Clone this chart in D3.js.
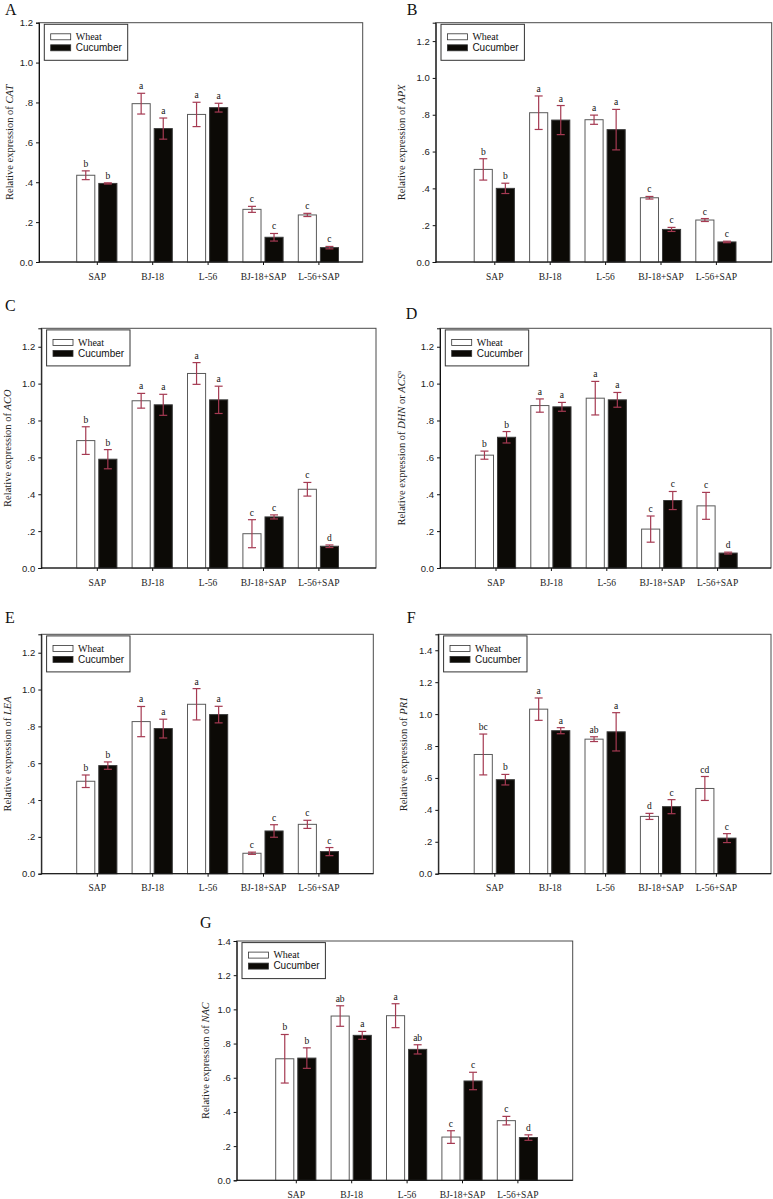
<!DOCTYPE html>
<html><head><meta charset="utf-8">
<script src="https://cdn.jsdelivr.net/npm/d3@7"></script>
<style>
body{margin:0;background:#fff;}
svg{display:block;}
</style></head>
<body>
<svg id="chart" width="773" height="1199"></svg>
<script>
// ---------- data ----------
const categories = ["SAP", "BJ-18", "L-56", "BJ-18+SAP", "L-56+SAP"];
const seriesNames = ["Wheat", "Cucumber"];
const yTickValues = [0, 0.2, 0.4, 0.6, 0.8, 1.0, 1.2, 1.4];

// A: CAT
const catWheat = [0.435, 0.794, 0.740, 0.264, 0.236];
const catWheatErr = [0.022, 0.052, 0.061, 0.015, 0.008];
const catCucumber = [0.394, 0.669, 0.774, 0.124, 0.072];
const catCucumberErr = [0.003, 0.053, 0.022, 0.019, 0.006];
const catWheatLetters = ["b", "a", "a", "c", "c"];
const catCucumberLetters = ["b", "a", "a", "c", "c"];

// B: APX
const apxWheat = [0.503, 0.811, 0.773, 0.349, 0.228];
const apxWheatErr = [0.058, 0.091, 0.025, 0.007, 0.008];
const apxCucumber = [0.400, 0.771, 0.719, 0.177, 0.109];
const apxCucumberErr = [0.028, 0.079, 0.110, 0.011, 0.004];
const apxWheatLetters = ["b", "a", "a", "c", "c"];
const apxCucumberLetters = ["b", "a", "a", "c", "c"];

// C: ACO
const acoWheat = [0.691, 0.907, 1.055, 0.186, 0.427];
const acoWheatErr = [0.075, 0.040, 0.059, 0.076, 0.037];
const acoCucumber = [0.590, 0.885, 0.912, 0.277, 0.118];
const acoCucumberErr = [0.052, 0.057, 0.074, 0.011, 0.007];
const acoWheatLetters = ["b", "a", "a", "c", "c"];
const acoCucumberLetters = ["b", "a", "a", "c", "d"];

// D: DHN or ACS
const dhnWheat = [0.612, 0.881, 0.921, 0.211, 0.337];
const dhnWheatErr = [0.022, 0.036, 0.091, 0.071, 0.073];
const dhnCucumber = [0.709, 0.874, 0.912, 0.366, 0.081];
const dhnCucumberErr = [0.031, 0.024, 0.040, 0.049, 0.005];
const dhnWheatLetters = ["b", "a", "a", "c", "c"];
const dhnCucumberLetters = ["b", "a", "a", "c", "d"];

// E: LEA
const leaWheat = [0.502, 0.826, 0.920, 0.111, 0.268];
const leaWheatErr = [0.034, 0.082, 0.085, 0.006, 0.022];
const leaCucumber = [0.587, 0.788, 0.864, 0.232, 0.120];
const leaCucumberErr = [0.020, 0.051, 0.045, 0.034, 0.022];
const leaWheatLetters = ["b", "a", "a", "c", "c"];
const leaCucumberLetters = ["b", "a", "a", "c", "c"];

// F: PR1
const pr1Wheat = [0.747, 1.031, 0.843, 0.359, 0.534];
const pr1WheatErr = [0.128, 0.070, 0.015, 0.019, 0.075];
const pr1Cucumber = [0.589, 0.896, 0.889, 0.420, 0.223];
const pr1CucumberErr = [0.033, 0.019, 0.120, 0.044, 0.028];
const pr1WheatLetters = ["bc", "a", "ab", "d", "cd"];
const pr1CucumberLetters = ["b", "a", "a", "c", "c"];

// G: NAC
const nacWheat = [0.711, 0.961, 0.963, 0.253, 0.349];
const nacWheatErr = [0.142, 0.060, 0.070, 0.037, 0.025];
const nacCucumber = [0.715, 0.848, 0.766, 0.581, 0.250];
const nacCucumberErr = [0.060, 0.023, 0.027, 0.051, 0.016];
const nacWheatLetters = ["b", "ab", "a", "c", "c"];
const nacCucumberLetters = ["b", "a", "ab", "c", "d"];

const panelIds = ["A", "B", "C", "D", "E", "F", "G"];
const genes = ["CAT", "APX", "ACO", "DHN", "LEA", "PR1", "NAC"];
const yMaxes = [1.2, 1.3, 1.3, 1.3, 1.3, 1.5, 1.4];

const panelData = [
  [catWheat, catWheatErr, catCucumber, catCucumberErr, catWheatLetters, catCucumberLetters],
  [apxWheat, apxWheatErr, apxCucumber, apxCucumberErr, apxWheatLetters, apxCucumberLetters],
  [acoWheat, acoWheatErr, acoCucumber, acoCucumberErr, acoWheatLetters, acoCucumberLetters],
  [dhnWheat, dhnWheatErr, dhnCucumber, dhnCucumberErr, dhnWheatLetters, dhnCucumberLetters],
  [leaWheat, leaWheatErr, leaCucumber, leaCucumberErr, leaWheatLetters, leaCucumberLetters],
  [pr1Wheat, pr1WheatErr, pr1Cucumber, pr1CucumberErr, pr1WheatLetters, pr1CucumberLetters],
  [nacWheat, nacWheatErr, nacCucumber, nacCucumberErr, nacWheatLetters, nacCucumberLetters]
];

// ---------- layout (positions only) ----------
const layout = [
  {x0: 39,    y0: 22.7,  x1: 362.7, y1: 262,    c0: 96.8,  tx: 9.5,   lx: 5,     ly: 15},
  {x0: 435.7, y0: 22.7,  x1: 771.7, y1: 262,    c0: 494.3, tx: 401.7, lx: 406.7, ly: 15},
  {x0: 41.3,  y0: 328.3, x1: 376,   y1: 568,    c0: 96.8,  tx: 7,     lx: 5,     ly: 311},
  {x0: 440,   y0: 328.3, x1: 771,   y1: 568,    c0: 495.5, tx: 401.7, lx: 405.7, ly: 319},
  {x0: 41.3,  y0: 634.3, x1: 373.3, y1: 873.7,  c0: 96.8,  tx: 7,     lx: 5,     ly: 623},
  {x0: 438.3, y0: 634.3, x1: 771,   y1: 873.7,  c0: 494.3, tx: 403.3, lx: 406.7, ly: 623},
  {x0: 236.7, y0: 941,   x1: 572.7, y1: 1180.3, c0: 295.8, tx: 205,   lx: 200,   ly: 928}
];
const groupStep = 55.4;
const groupWidth = 40.2;

const serif = "'Liberation Serif','Times New Roman',serif";
const sans = "'Liberation Sans',Arial,sans-serif";
const errColor = "#a53a52";
const barFills = ["#ffffff", "#0c0a06"];
const barStrokes = ["#5a5a5a", "#3a3a3a"];

const svg = d3.select("#chart");

function fmtTick(v) {
  if (v === 0) return "0.0";
  if (v < 1) return d3.format(".1f")(v).replace(/^0/, "");
  return d3.format(".1f")(v);
}

panelIds.forEach((id, pi) => {
  const L = layout[pi];
  const [wv, we, cv, ce, wl, cl] = panelData[pi];
  const g = svg.append("g");

  const y = d3.scaleLinear().domain([0, yMaxes[pi]]).range([L.y1, L.y0]);
  const x = d3.scalePoint().domain(categories).range([L.c0, L.c0 + groupStep * (categories.length - 1)]);
  const xs = d3.scaleBand().domain(seriesNames).range([-groupWidth / 2, groupWidth / 2]).paddingInner(0.18);

  // frame (top/right)
  g.append("rect").attr("x", L.x0).attr("y", L.y0)
    .attr("width", L.x1 - L.x0).attr("height", L.y1 - L.y0)
    .attr("fill", "none").attr("stroke", "#4a4a4a").attr("stroke-width", 1);

  // bars
  const rows = [];
  categories.forEach((c, i) => {
    rows.push({cat: c, s: 0, v: wv[i], e: we[i], lab: wl[i]});
    rows.push({cat: c, s: 1, v: cv[i], e: ce[i], lab: cl[i]});
  });

  g.selectAll("rect.bar").data(rows).join("rect").attr("class", "bar")
    .attr("x", d => x(d.cat) + xs(seriesNames[d.s]))
    .attr("y", d => y(d.v))
    .attr("width", xs.bandwidth())
    .attr("height", d => y(0) - y(d.v))
    .attr("fill", d => barFills[d.s])
    .attr("stroke", d => barStrokes[d.s])
    .attr("stroke-width", 1);

  // error bars
  const eg = g.selectAll("g.err").data(rows).join("g").attr("class", "err")
    .attr("stroke", errColor).attr("stroke-width", 1.2);
  const cx = d => x(d.cat) + xs(seriesNames[d.s]) + xs.bandwidth() / 2;
  eg.append("line").attr("x1", cx).attr("x2", cx)
    .attr("y1", d => y(d.v + d.e)).attr("y2", d => y(d.v - d.e));
  eg.append("line").attr("x1", d => cx(d) - 4).attr("x2", d => cx(d) + 4)
    .attr("y1", d => y(d.v + d.e)).attr("y2", d => y(d.v + d.e));
  eg.append("line").attr("x1", d => cx(d) - 4).attr("x2", d => cx(d) + 4)
    .attr("y1", d => y(d.v - d.e)).attr("y2", d => y(d.v - d.e));

  // significance letters
  g.selectAll("text.sig").data(rows).join("text").attr("class", "sig")
    .attr("x", cx).attr("y", d => y(d.v + d.e) - 4)
    .attr("text-anchor", "middle")
    .style("font-family", serif).style("font-size", "9.5px").attr("fill", "#111")
    .text(d => d.lab);

  // axes
  const ticks = yTickValues.filter(v => v <= yMaxes[pi] + 1e-9);
  const ya = g.append("g").attr("transform", `translate(${L.x0},0)`)
    .call(d3.axisLeft(y).tickValues(ticks).tickSize(3).tickPadding(3).tickFormat(fmtTick));
  ya.select(".domain").attr("stroke", "#111");
  ya.selectAll(".tick line").attr("stroke", "#111");
  ya.selectAll("text").style("font-family", sans).style("font-size", "9.5px").attr("fill", "#222");

  const xa = g.append("g").attr("transform", `translate(0,${L.y1})`)
    .call(d3.axisBottom(x).tickSize(3).tickPadding(8));
  xa.select(".domain").attr("d", `M${L.x0},0H${L.x1}`).attr("stroke", "#111");
  xa.selectAll(".tick line").attr("stroke", "#111");
  xa.selectAll("text").style("font-family", serif).style("font-size", "9.5px").attr("fill", "#222");

  // y title
  const t = g.append("text")
    .attr("transform", `translate(${L.tx},${(L.y0 + L.y1) / 2}) rotate(-90)`)
    .attr("text-anchor", "middle").attr("dy", "0.35em")
    .style("font-family", serif).style("font-size", "10.5px").attr("fill", "#222");
  t.append("tspan").text("Relative expression of ");
  t.append("tspan").style("font-style", "italic").text(genes[pi]);
  if (id === "D") {
    t.append("tspan").text(" or ");
    t.append("tspan").style("font-style", "italic").text("ACS");
    t.append("tspan").attr("baseline-shift", "super").style("font-size", "7px").text("a");
  }

  // panel letter
  g.append("text").attr("x", L.lx).attr("y", L.ly)
    .style("font-family", serif).style("font-size", "16px").attr("fill", "#111")
    .text(id);

  // legend
  const lg = g.append("g").attr("transform", `translate(${L.x0 + 5.3},${L.y0 + 1.6})`);
  lg.append("rect").attr("width", 83.4).attr("height", 36)
    .attr("fill", "#fff").attr("stroke", "#333").attr("stroke-width", 1);
  seriesNames.forEach((s, i) => {
    lg.append("rect").attr("x", 6.4).attr("y", 9.5 + i * 11).attr("width", 20).attr("height", 6)
      .attr("fill", barFills[i]).attr("stroke", "#333").attr("stroke-width", 0.8);
    lg.append("text").attr("x", 31.4).attr("y", 15.8 + i * 11)
      .style("font-family", i === 0 ? serif : sans).style("font-size", "10px").attr("fill", "#111")
      .text(s);
  });
});
</script>
</body></html>
